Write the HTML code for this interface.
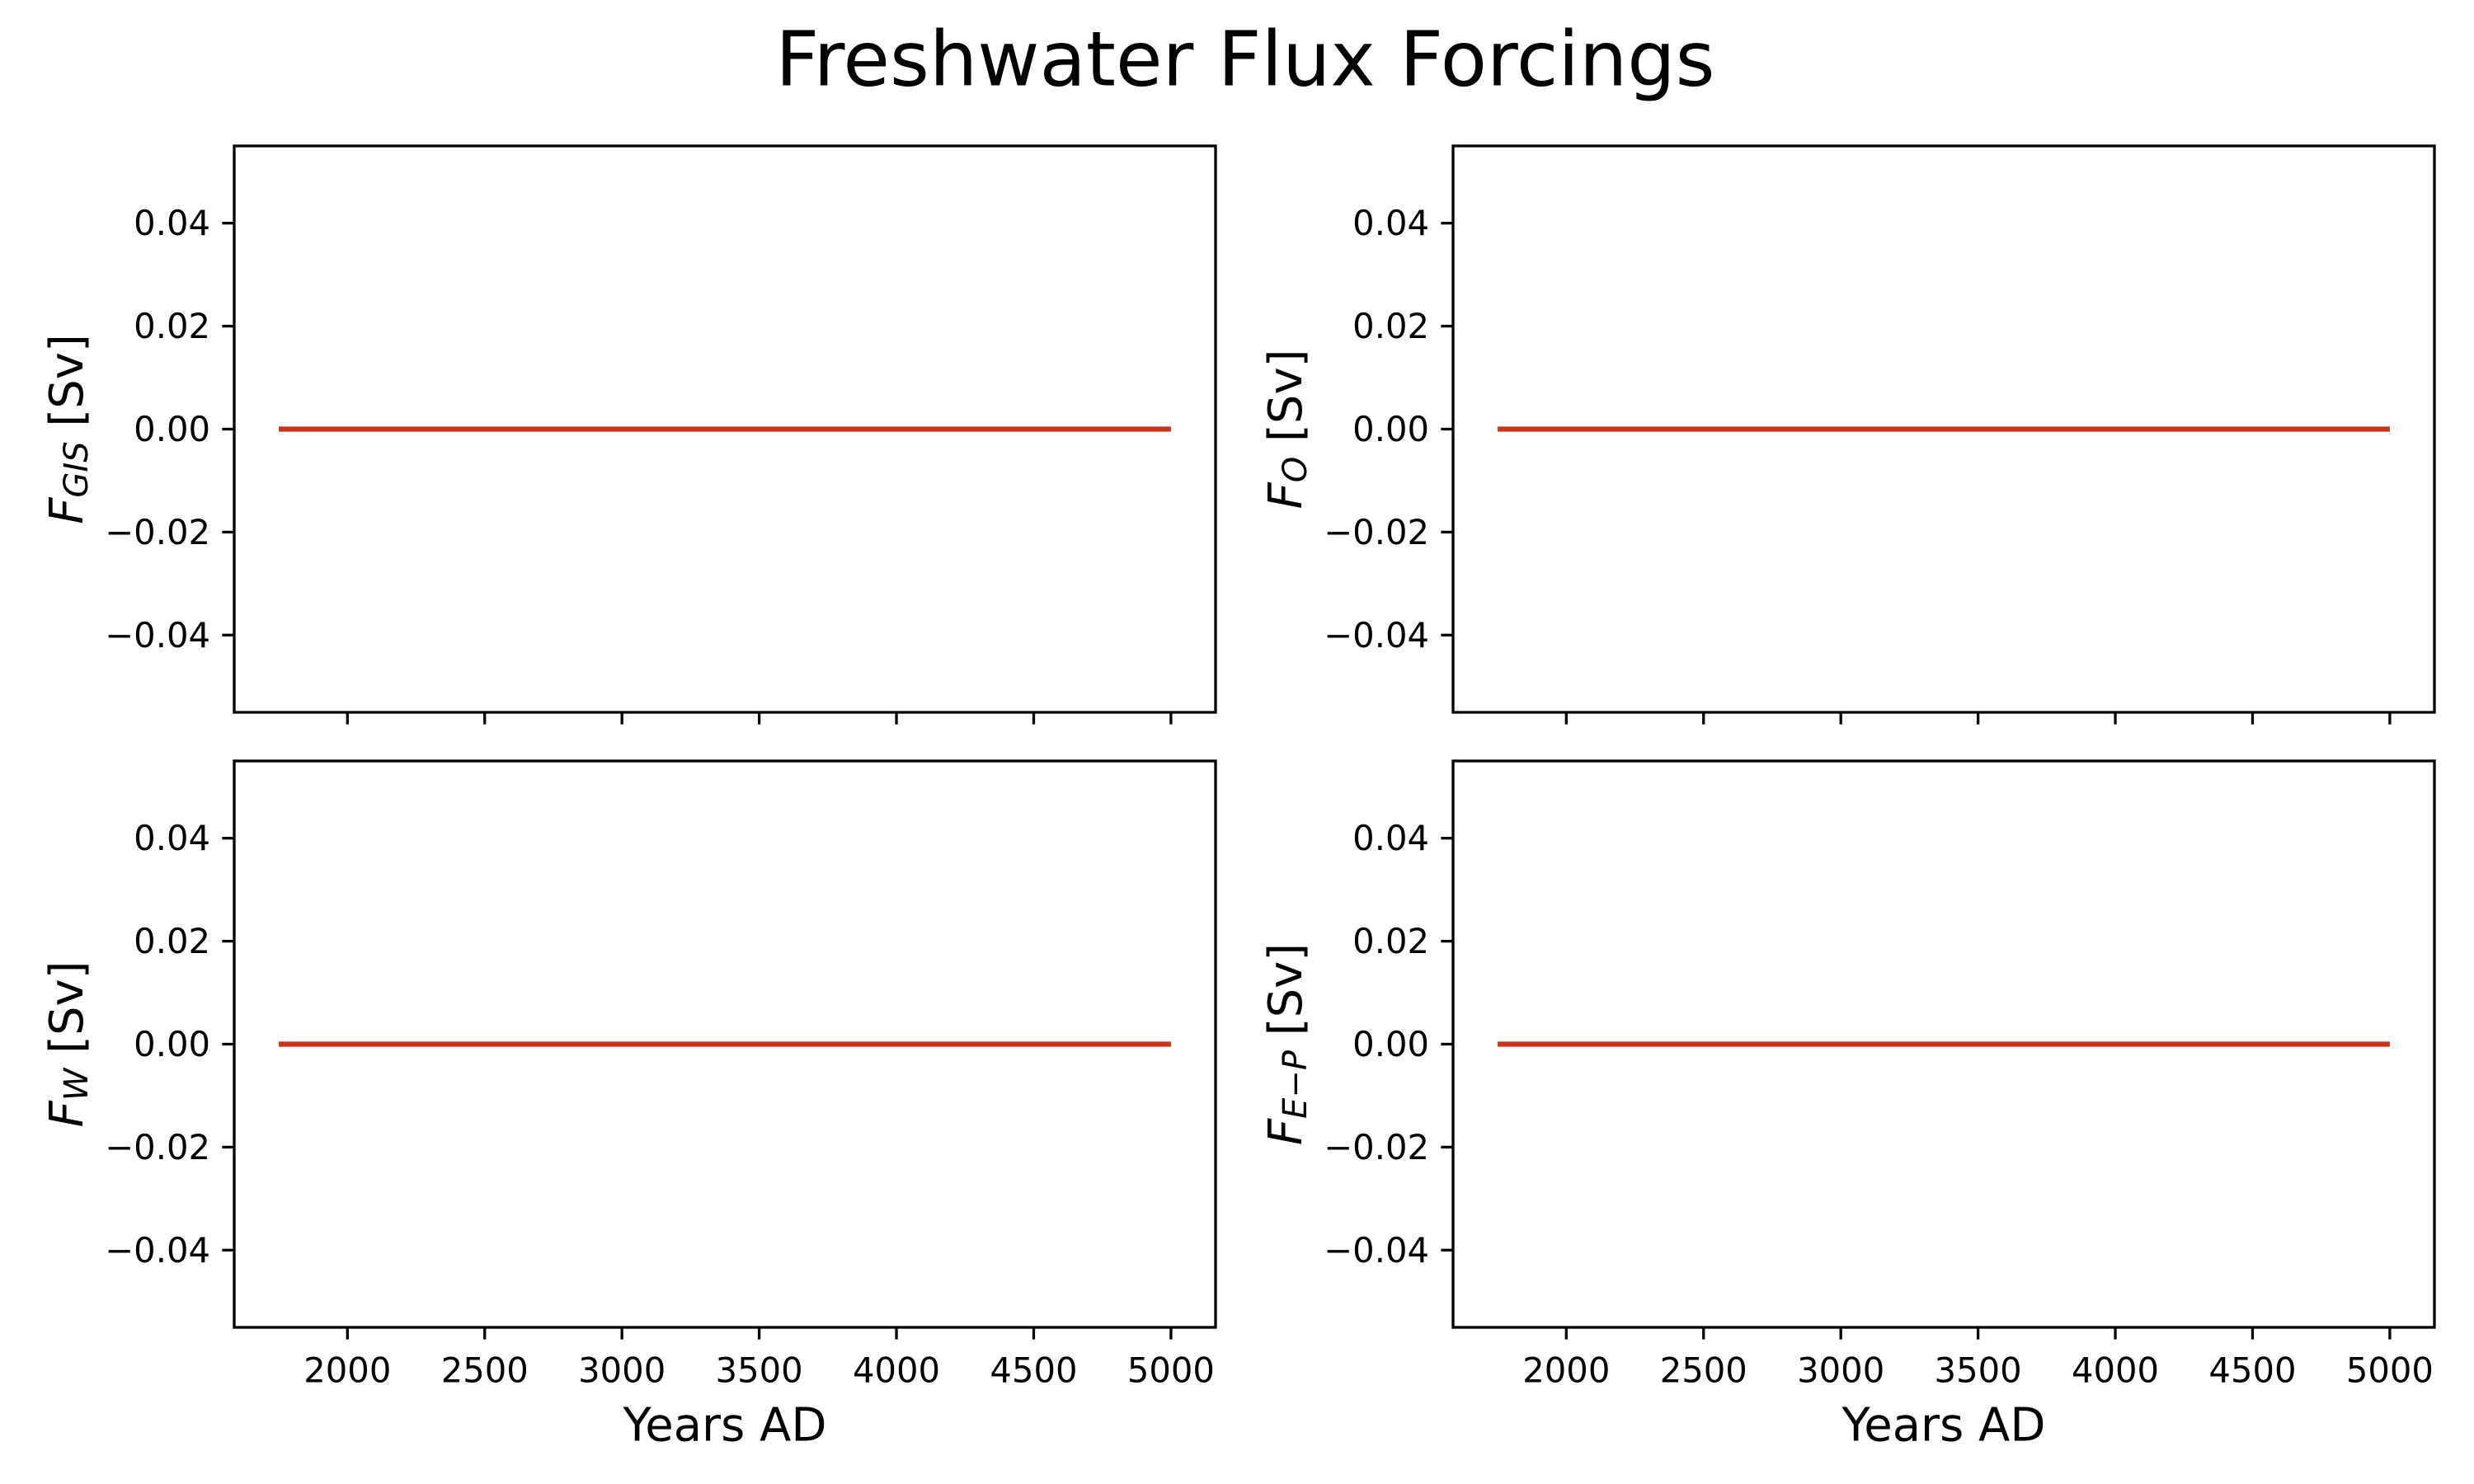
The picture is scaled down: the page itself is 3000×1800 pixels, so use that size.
<!DOCTYPE html>
<html><head><meta charset="utf-8"><style>
html,body{margin:0;padding:0;background:#fff;}
svg{display:block;font-family:"DejaVu Sans","Liberation Sans",sans-serif;}
</style></head><body>
<svg id="fig" width="3000" height="1800" viewBox="0 0 3000 1800" xmlns="http://www.w3.org/2000/svg">
<rect width="3000" height="1800" fill="#fff"/>
<text x="1510" y="78" font-size="92" text-anchor="middle" dominant-baseline="middle">Freshwater Flux Forcings</text>
</svg>
<script>
const years = [1750, 5000];
const fGIS = [0, 0];
const fO = [0, 0];
const fW = [0, 0];
const fEP = [0, 0];
const xTicks = [2000, 2500, 3000, 3500, 4000, 4500, 5000];
const yTicks = [-0.04, -0.02, 0, 0.02, 0.04];
const yTickLabels = ["\u22120.04", "\u22120.02", "0.00", "0.02", "0.04"];

const NS = "http://www.w3.org/2000/svg";
const svg = document.getElementById('fig');
function mk(tag, attrs, parent) {
  const e = document.createElementNS(NS, tag);
  for (const k in attrs) e.setAttribute(k, attrs[k]);
  (parent || svg).appendChild(e);
  return e;
}
const xmin = 1587.5, xmax = 5162.5, ymin = -0.055, ymax = 0.055;
const W = 1190, H = 687;
const panels = [
  {x: 284, y: 177, data: fGIS, sub: "GIS", name: "gis", xl: false},
  {x: 1762, y: 177, data: fO, sub: "O", name: "ocean", xl: false},
  {x: 284, y: 923, data: fW, sub: "W", name: "w", xl: true},
  {x: 1762, y: 923, data: fEP, sub: "E\u2212P", name: "e-minus-p", xl: true}
];
panels.forEach(p => {
  const sx = v => p.x + (v - xmin) / (xmax - xmin) * W;
  const sy = v => p.y + H - (v - ymin) / (ymax - ymin) * H;
  const g = mk('g', {});
  
  
  let d = '';
  years.forEach((yr, i) => { d += (i ? 'L' : 'M') + sx(yr) + ',' + sy(p.data[i]); });
  const ln = mk('path', {d: d, stroke: '#c9341a', 'stroke-width': 6.3, fill: 'none'}, g);
  
  
  const fr = mk('rect', {x: p.x, y: p.y, width: W, height: H, fill: 'none', stroke: '#000', 'stroke-width': 3.3}, g);
  
  
  yTicks.forEach((t, i) => {
    const yy = sy(t);
    const tk = mk('line', {x1: p.x, x2: p.x - 14.6, y1: yy, y2: yy, stroke: '#000', 'stroke-width': 3.3}, g);
    
    
    const tl = mk('text', {x: p.x - 29, y: yy, 'font-size': 41.7, 'text-anchor': 'end', 'dominant-baseline': 'central'}, g);
    tl.textContent = yTickLabels[i];
    
    
  });
  xTicks.forEach(t => {
    const xx = sx(t);
    const tk = mk('line', {x1: xx, x2: xx, y1: p.y + H, y2: p.y + H + 14.6, stroke: '#000', 'stroke-width': 3.3}, g);
    
    
    if (p.xl) {
      const tl = mk('text', {x: xx, y: p.y + H + 52, 'font-size': 41.7, 'text-anchor': 'middle', 'dominant-baseline': 'central'}, g);
      tl.textContent = String(t);
      
      
    }
  });
  if (p.xl) {
    const xl = mk('text', {x: p.x + W / 2, y: p.y + H + 119, 'font-size': 56, 'text-anchor': 'middle', 'dominant-baseline': 'central'}, g);
    xl.textContent = 'Years AD';
    
    
  }
  const cx = p.x - 203, cy = p.y + H / 2;
  const yl = mk('text', {x: cx, y: cy, 'font-size': 56, 'text-anchor': 'middle', 'dominant-baseline': 'central', transform: 'rotate(-90 ' + cx + ' ' + cy + ')'}, g);
  
  
  const t1 = mk('tspan', {'font-style': 'italic'}, yl); t1.textContent = 'F';
  const t2 = mk('tspan', {'font-style': 'italic', 'font-size': 40, dy: 12}, yl); t2.textContent = p.sub;
  const t3 = mk('tspan', {dy: -12}, yl); t3.textContent = ' [Sv]';
});
</script>
</body></html>
